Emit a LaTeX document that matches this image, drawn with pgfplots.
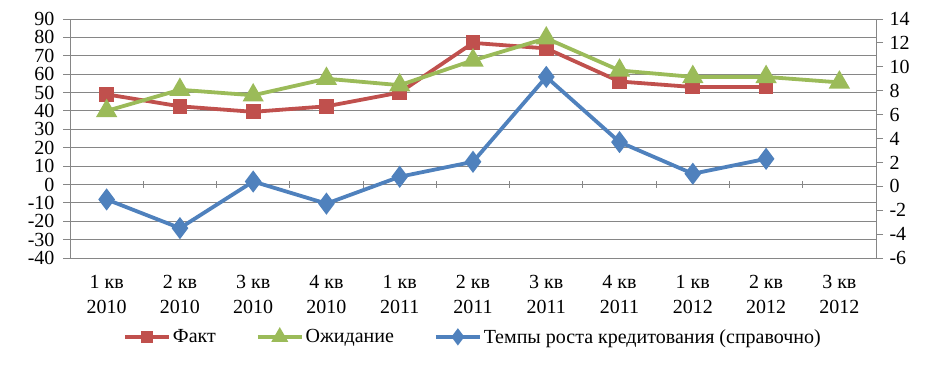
\documentclass[border=0pt]{standalone}
\usepackage{fontspec}
\setmainfont{Liberation Serif}
\usepackage{pgfplots}
\pgfplotsset{compat=1.18}
\definecolor{cred}{HTML}{C0504D}
\definecolor{cgreen}{HTML}{9BBB59}
\definecolor{cblue}{HTML}{4F81BD}
\definecolor{cgrid}{HTML}{868686}
\pgfplotsset{
  base/.style={
    width=806pt, height=239pt, scale only axis,
    at={(70pt,108pt)}, anchor=south west,
    xmin=-0.5, xmax=10.5,
    /pgf/number format/assume math mode=true,
    font=\fontsize{20}{25}\selectfont,
    tick align=outside,
    major tick length=7pt,
    axis line style={cgrid, line width=0.9pt},
    clip=false,
  },
  ser/.style={line width=3.8pt, mark options={solid}},
}
\begin{document}
\begin{tikzpicture}
\useasboundingbox (0pt,0pt) rectangle (937pt,366pt);
% left axis with the two survey series
\begin{axis}[base,
  ymin=-40, ymax=90, ytick={-40,-30,...,90},
  axis y line*=left, axis x line*=bottom,
  ymajorgrids, grid style={cgrid, line width=0.9pt},
  ytick style={cgrid, line width=0.9pt},
  xtick style={draw=none},
  yticklabel style={xshift=-5pt},
  xtick={0,...,10},
  xticklabels={{1 кв\\2010},{2 кв\\2010},{3 кв\\2010},{4 кв\\2010},{1 кв\\2011},{2 кв\\2011},{3 кв\\2011},{4 кв\\2011},{1 кв\\2012},{2 кв\\2012},{3 кв\\2012}},
  xticklabel style={align=center, yshift=-7pt},
]
\addplot[ser, cred, mark=square*, mark size=5.5pt] coordinates {
 (0,49) (1,42.5) (2,39.5) (3,42.5) (4,50) (5,77) (6,74) (7,56) (8,53) (9,53)};
\addplot[ser, cgreen, mark=triangle*, mark size=8.5pt] coordinates {
 (0,40) (1,51.5) (2,48.5) (3,57.5) (4,54) (5,67.5) (6,79.5) (7,62) (8,58.5) (9,58.5) (10,55.5)};
\end{axis}
% zero line tick marks
\begin{axis}[base,
  ymin=-40, ymax=90,
  axis x line=middle, axis y line=none,
  x axis line style={-},
  xtick={0.5,1.5,...,9.5}, xticklabels={},
  xtick style={cgrid, line width=0.9pt},
]
\end{axis}
% right axis with lending growth
\begin{axis}[base,
  ymin=-6, ymax=14, ytick={-6,-4,...,14},
  axis y line*=right, axis x line=none,
  ytick style={cgrid, line width=0.9pt},
  yticklabel style={xshift=3pt},
  legend style={at={(0.5,-0.33)}, anchor=center, draw=none, fill=none,
    legend columns=-1, font=\fontsize{20}{25}\selectfont,
    /tikz/every even column/.append style={column sep=38pt},
    inner sep=0pt},
  legend image code/.code={\draw[mark repeat=2,mark phase=2] plot coordinates {(0pt,0pt) (22pt,0pt) (44pt,0pt)};},
]
\addlegendimage{ser, cred, mark=square*, mark size=4pt}
\addlegendentry{Факт}
\addlegendimage{ser, cgreen, mark=triangle*, mark size=6pt}
\addlegendentry{Ожидание}
\addplot[ser, cblue, mark=diamond*, mark size=8pt, forget plot] coordinates {
 (0,-1.1) (1,-3.5) (2,0.4) (3,-1.45) (4,0.8) (5,2.05) (6,9.15) (7,3.7) (8,1.05) (9,2.3)};
\addlegendimage{ser, cblue, mark=diamond*, mark size=5.5pt}
\addlegendentry{Темпы роста кредитования (справочно)}
\end{axis}
\end{tikzpicture}
\end{document}
